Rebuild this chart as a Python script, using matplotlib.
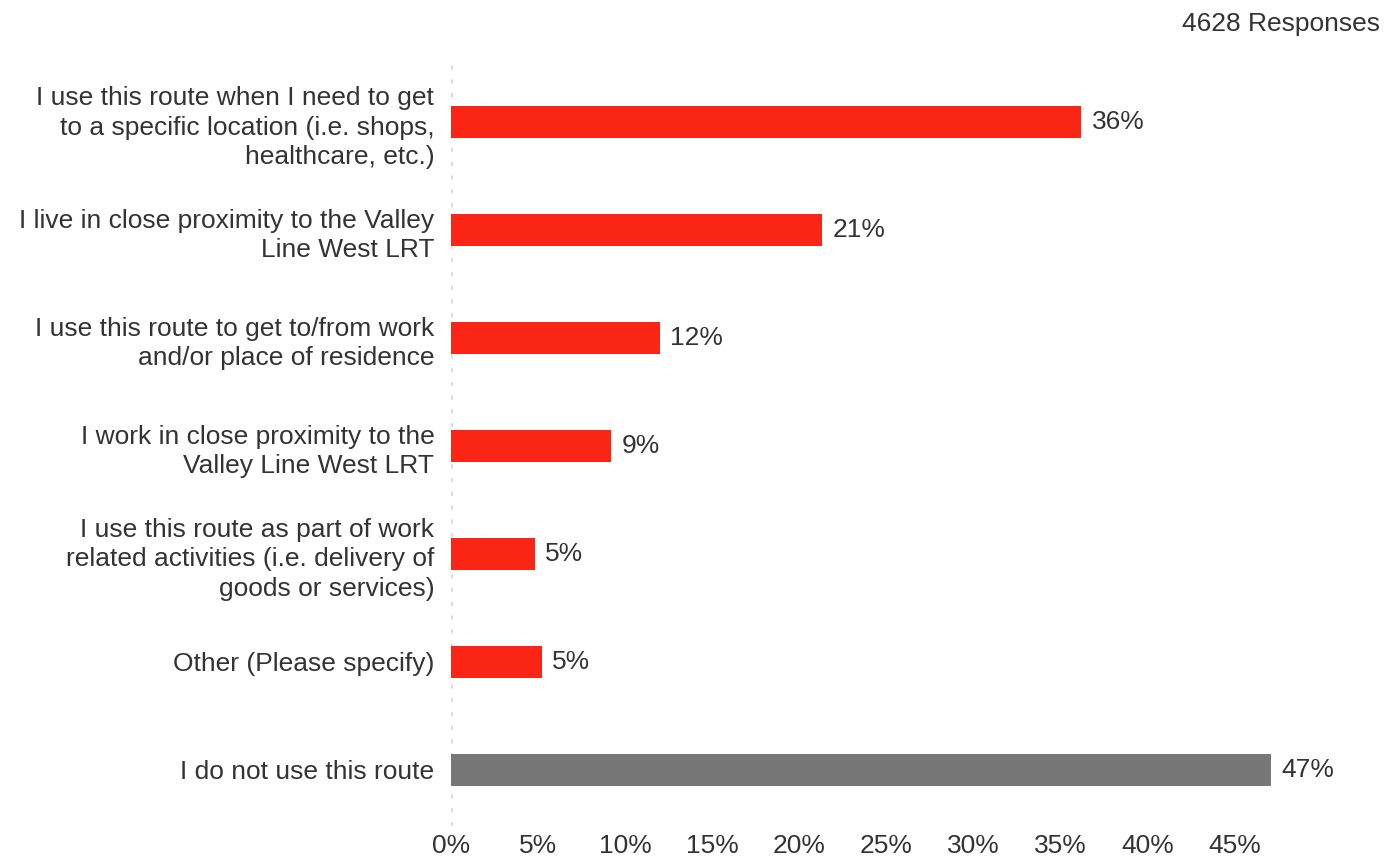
import numpy as np
from matplotlib import pyplot as plt

categories = [
    "I use this route when I need to get\nto a specific location (i.e. shops,\nhealthcare, etc.)",
    "I live in close proximity to the Valley\nLine West LRT",
    "I use this route to get to/from work\nand/or place of residence",
    "I work in close proximity to the\nValley Line West LRT",
    "I use this route as part of work\nrelated activities (i.e. delivery of\ngoods or services)",
    "Other (Please specify)",
    "I do not use this route",
]
values = [36.2, 21.3, 12.0, 9.2, 4.8, 5.2, 47.1]
labels = ["36%", "21%", "12%", "9%", "5%", "5%", "47%"]
colors = ["#fa2515"] * 6 + ["#777777"]
xticks = [0, 5, 10, 15, 20, 25, 30, 35, 40, 45]

plt.rcParams['font.family'] = ['Liberation Sans', 'DejaVu Sans']
txt = "#333333"
fs = 19

fig = plt.figure(figsize=(13.98, 8.57), dpi=100)
ax = fig.add_axes([451 / 1398, 1 - 826 / 857, 1 - 451 / 1398, (826 - 65) / 857])

y = np.arange(len(categories))
ax.barh(y, values, height=0.3, color=colors, zorder=3)
for yi, v, lab in zip(y, values, labels):
    ax.text(v + 0.6, yi, lab, va="center", ha="left", fontsize=fs, color=txt)

ax.axvline(0, color="#dddddd", lw=3, ls=(0, (1, 2.3)), zorder=1)

ax.set_ylim(6.52, -0.53)
ax.set_xlim(0, 54.4)
ax.set_yticks(y)
ax.set_yticklabels(categories, fontsize=fs, color=txt, linespacing=1.3)
ax.set_xticks(xticks)
ax.set_xticklabels([f"{t}%" for t in xticks], fontsize=fs, color=txt)
ax.tick_params(axis="y", length=0, pad=12)
ax.tick_params(axis="x", length=0, pad=6)
for s in ax.spines.values():
    s.set_visible(False)

fig.text(1380 / 1398, 1 - 24 / 857, "4628 Responses", ha="right", va="center",
         fontsize=fs, color=txt)

fig.savefig("out.png", dpi=100)
